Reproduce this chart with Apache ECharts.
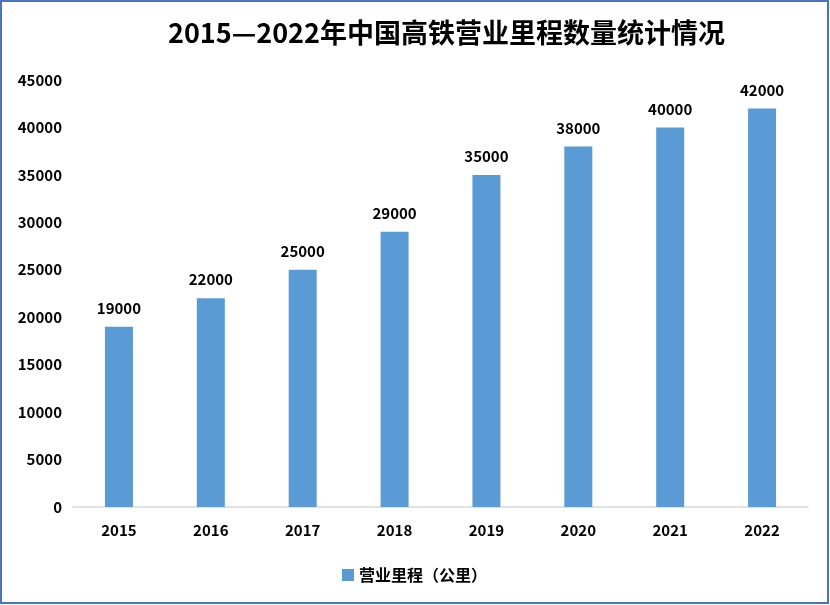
<!DOCTYPE html>
<html>
<head>
<meta charset="utf-8">
<script src="https://cdn.jsdelivr.net/npm/echarts@6/dist/echarts.min.js"></script>
<style>
html,body{margin:0;padding:0;background:#fff;}
#main{width:825px;height:600px;border:2px solid #4a74c0;}
</style>
</head>
<body>
<div id="main"></div>
<script>
// 年份
var years = ['2015','2016','2017','2018','2019','2020','2021','2022'];
// 营业里程（公里）
var mileage = [19000, 22000, 25000, 29000, 35000, 38000, 40000, 42000];
var seriesName = '营业里程（公里）';

var myChart = echarts.init(document.getElementById('main'));
var fontFamily = '"Noto Sans CJK SC", "Liberation Sans", sans-serif';

var option = {
    backgroundColor: '#fff',
    title: {
        text: '2015—2022年中国高铁营业里程数量统计情况',
        left: 161,
        top: 12,
        textStyle: {
            fontSize: 27,
            fontWeight: 'bold',
            color: '#000',
            fontFamily: fontFamily
        }
    },
    legend: {
        bottom: 14,
        left: 'center',
        itemWidth: 12,
        itemHeight: 12,
        itemGap: 6,
        icon: 'rect',
        data: [seriesName],
        textStyle: {
            fontSize: 16,
            fontWeight: 'bold',
            color: '#000',
            fontFamily: fontFamily
        }
    },
    grid: {
        left: 71,
        right: 19,
        top: 78,
        bottom: 95,
        containLabel: false
    },
    xAxis: {
        type: 'category',
        data: years,
        axisLine: { lineStyle: { color: '#d9d9d9', width: 1.5 } },
        axisTick: { show: false },
        axisLabel: {
            margin: 16,
            fontSize: 15,
            fontWeight: 'bold',
            color: '#000',
            fontFamily: fontFamily
        }
    },
    yAxis: {
        type: 'value',
        min: 0,
        max: 45000,
        interval: 5000,
        axisLine: { show: false },
        axisTick: { show: false },
        splitLine: { show: false },
        axisLabel: {
            margin: 11,
            fontSize: 15,
            fontWeight: 'bold',
            color: '#000',
            fontFamily: fontFamily,
            formatter: function (v) { return String(v); }
        }
    },
    series: [{
        name: seriesName,
        type: 'bar',
        data: mileage,
        barWidth: 28,
        itemStyle: { color: '#5b9bd5' },
        label: {
            show: true,
            position: 'top',
            distance: 11,
            fontSize: 15,
            fontWeight: 'bold',
            color: '#000',
            fontFamily: fontFamily
        }
    }]
};
myChart.setOption(option);
</script>
</body>
</html>
